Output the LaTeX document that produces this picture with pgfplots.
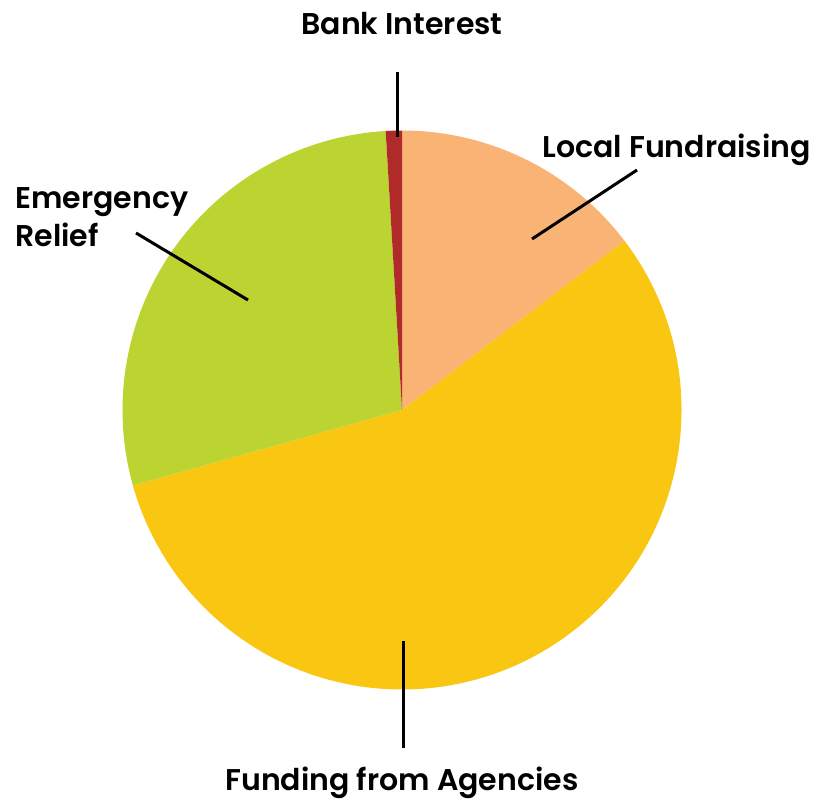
\documentclass[border=0pt]{standalone}
\usepackage{pgfplots}
\usepackage{pgfplotstable}
\usepackage{fontspec}
\setmainfont{Poppins}[BoldFont={Poppins SemiBold}]
\pgfplotsset{compat=1.18}

\definecolor{peach}{HTML}{F9B375}
\definecolor{gold}{HTML}{F9C612}
\definecolor{lime}{HTML}{BCD431}
\definecolor{brick}{HTML}{B02A29}

% share of each slice, percent, clockwise from 12 o'clock
\pgfplotstableread{
slice value
LocalFundraising 14.65
FundingAgencies 56.00
EmergencyRelief 28.42
BankInterest 0.93
}\piedata

\tikzset{lbl/.style={font=\fontsize{15}{18}\selectfont\bfseries, text=black, inner sep=0pt}}

\begin{document}
\begin{tikzpicture}
\pgfplotstablegetelem{0}{value}\of\piedata \let\vA\pgfplotsretval
\pgfplotstablegetelem{1}{value}\of\piedata \let\vB\pgfplotsretval
\pgfplotstablegetelem{2}{value}\of\piedata \let\vC\pgfplotsretval
\pgfplotstablegetelem{3}{value}\of\piedata \let\vD\pgfplotsretval
\pgfmathsetmacro\aA{90}
\pgfmathsetmacro\aB{\aA-3.6*\vA}
\pgfmathsetmacro\aC{\aB-3.6*\vB}
\pgfmathsetmacro\aD{\aC-3.6*\vC}
\pgfmathsetmacro\aE{\aD-3.6*\vD}
\def\R{139.75pt}
\begin{axis}[
    x=0.5pt, y=0.5pt,
    xmin=0, xmax=817, ymin=0, ymax=800,
    hide axis, clip=false,
]
\path (axis cs:0,0) rectangle (axis cs:817,800);
\fill[peach] (axis cs:402,390) -- ++(\aA:\R) arc[start angle=\aA, end angle=\aB, radius=\R] -- cycle;
\fill[gold]  (axis cs:402,390) -- ++(\aB:\R) arc[start angle=\aB, end angle=\aC, radius=\R] -- cycle;
\fill[lime]  (axis cs:402,390) -- ++(\aC:\R) arc[start angle=\aC, end angle=\aD, radius=\R] -- cycle;
\fill[brick] (axis cs:402,390) -- ++(\aD:\R) arc[start angle=\aD, end angle=\aE, radius=\R] -- cycle;

% leader lines
\draw[line width=1.5pt] (axis cs:397,728) -- (axis cs:397,663);
\draw[line width=1.5pt] (axis cs:637,630) -- (axis cs:532,561);
\draw[line width=1.5pt] (axis cs:136,567) -- (axis cs:248,500);
\draw[line width=1.5pt] (axis cs:403,159) -- (axis cs:403,52);

% labels
\node[lbl, anchor=base] at (axis cs:402,765) {Bank Interest};
\node[lbl, anchor=base west] at (axis cs:542,643) {Local Fundraising};
\node[lbl, anchor=base west] at (axis cs:15,592) {Emergency};
\node[lbl, anchor=base west] at (axis cs:15,554) {Relief};
\node[lbl, anchor=base] at (axis cs:402,10) {Funding from Agencies};
\end{axis}
\end{tikzpicture}
\end{document}
